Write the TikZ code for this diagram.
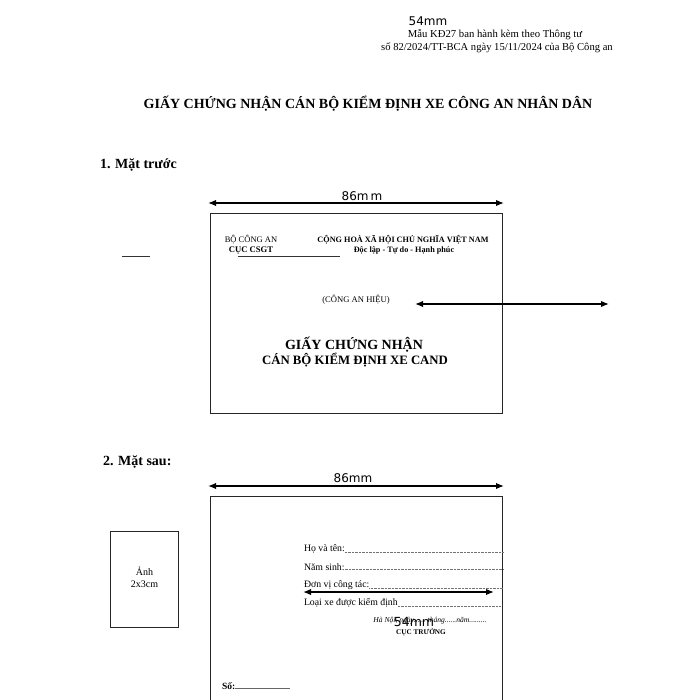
\documentclass[tikz,border=0pt]{standalone}
\usepackage{fontspec}
\setmainfont{Liberation Serif}
\newfontfamily\dimfont{DejaVu Sans}
\usetikzlibrary{arrows.meta}
\tikzset{
  dimarrow/.style={{Latex[length=8pt,width=6.5pt]}-{Latex[length=8pt,width=6.5pt]}, line width=1.5pt},
  card/.style={draw, line width=1.2pt, black!85},
  txt/.style={inner sep=0pt, outer sep=0pt},
  dimlabel/.style={txt, font=\dimfont\fontsize{12}{13}\selectfont},
  fieldtxt/.style={txt, anchor=west, font=\fontsize{9.8}{11}\selectfont},
  dotline/.style={line width=0.6pt, dash pattern=on 0.8pt off 0.6pt, black!55},
  solidline/.style={line width=1pt, black!80}
}
\begin{document}
\begin{tikzpicture}[x=1pt,y=-1pt]
\useasboundingbox (0,0) rectangle (700,700);

% header
\node[dimlabel] (hdim) at (428,21) {54mm};
\node[txt, font=\fontsize{10.7}{12}\selectfont] (mau) at (495,34.5) {Mẫu KĐ27 ban hành kèm theo Thông tư};
\node[txt, font=\fontsize{10.6}{12}\selectfont] (so) at (497,47.5) {số 82/2024/TT-BCA ngày 15/11/2024 của Bộ Công an};

\node[txt, font=\bfseries\fontsize{14}{16}\selectfont] (title) at (368,104) {GIẤY CHỨNG NHẬN CÁN BỘ KIỂM ĐỊNH XE CÔNG AN NHÂN DÂN};

% front
\node[txt, anchor=west, font=\bfseries\fontsize{14}{16}\selectfont] (front) at (100,165) {1. Mặt trước};
\coordinate (fa1) at (208,203);
\coordinate (fa2) at (504,203);
\draw[dimarrow] (fa1) -- (fa2);
\node[dimlabel] (fdim) at (362,196) {86m\kern2pt m};
\node[card, minimum width=292pt, minimum height=200pt, anchor=north west] (fcard) at (210,213) {};
\coordinate (sl1) at (122,256);
\coordinate (sl2) at (150,256);
\draw[solidline] (sl1) -- (sl2);

\node[txt, font=\fontsize{8.5}{9}\selectfont] (bca) at (251,240) {BỘ CÔNG AN};
\node[txt, font=\bfseries\fontsize{8.6}{9}\selectfont] (csgt) at (251,250) {CỤC CSGT};
\coordinate (ul1) at (238,256);
\coordinate (ul2) at (340,256);
\draw[solidline] (ul1) -- (ul2);
\node[txt, font=\bfseries\fontsize{8.2}{9}\selectfont] (chxh) at (403,240) {CỘNG HOÀ XÃ HỘI CHỦ NGHĨA VIỆT NAM};
\node[txt, font=\bfseries\fontsize{8.2}{9}\selectfont] (dl) at (404,250) {Độc lập - Tự do - Hạnh phúc};
\node[txt, font=\fontsize{8.6}{9}\selectfont] (cah) at (356,300) {(CÔNG AN HIỆU)};
\coordinate (ma1) at (415,304);
\coordinate (ma2) at (609,304);
\draw[dimarrow] (ma1) -- (ma2);
\node[txt, font=\bfseries\fontsize{14}{16}\selectfont] (gcn) at (354,345) {GIẤY CHỨNG NHẬN};
\node[txt, font=\bfseries\fontsize{12.8}{14}\selectfont] (cbkd) at (355,360) {CÁN BỘ KIỂM ĐỊNH XE CAND};

% back
\node[txt, anchor=west, font=\bfseries\fontsize{14}{16}\selectfont] (back) at (103,462) {2. Mặt sau:};
\coordinate (ba1) at (208,486);
\coordinate (ba2) at (504,486);
\draw[dimarrow] (ba1) -- (ba2);
\node[dimlabel] (bdim) at (353,478) {86mm};
\node[card, minimum width=292pt, minimum height=240pt, anchor=north west] (bcard) at (210,496) {};

\node[card, minimum width=68pt, minimum height=96pt, anchor=north west] (photo) at (110,531) {};
\node[txt, align=center, font=\fontsize{10}{12}\selectfont] (anh) at ([yshift=2pt]photo.center) {Ảnh\\2x3cm};

\node[fieldtxt] (hvt) at (304,549) {Họ và tên:};
\draw[dotline] (hvt.south east) ++(0,-1) coordinate (d1) -- (d1 -| bcard.east);
\node[fieldtxt] (ns) at (304,567) {Năm sinh:};
\draw[dotline] (ns.south east) ++(0,-1) coordinate (d2) -- (d2 -| bcard.east);
\node[fieldtxt] (dv) at (304,585) {Đơn vị công tác: };
\draw[dotline] (dv.south east) ++(0,-1) coordinate (d3) -- (d3 -| bcard.east);
\coordinate (ia1) at (303,592);
\coordinate (ia2) at (494,592);
\draw[dimarrow] (ia1) -- (ia2);
\node[fieldtxt] (lx) at (304,603) {Loại xe được kiểm định};
\coordinate (d4e) at (500,603);
\draw[dotline] (lx.south east) ++(0,-1) coordinate (d4) -- (d4 -| d4e);

\node[txt, font=\itshape\fontsize{7.6}{8}\selectfont] (hn) at (430,621) {Hà Nội, ngày...... tháng......năm.........};
\node[dimlabel, font=\dimfont\fontsize{12.5}{13}\selectfont] (idim) at (414,622) {54mm};
\node[txt, font=\bfseries\fontsize{7.2}{8}\selectfont] (ct) at (421,632) {CỤC TRƯỞNG};

\node[txt, anchor=west, font=\bfseries\fontsize{9.5}{10}\selectfont] (so2) at (222,686) {Số:};
\coordinate (sle) at (290,0);
\draw[solidline, line width=0.7pt, black!60] (so2.south east) ++(0,-1) coordinate (d5) -- (d5 -| sle);
\end{tikzpicture}
\end{document}
